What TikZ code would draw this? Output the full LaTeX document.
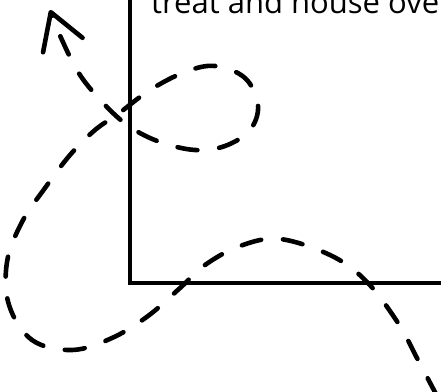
\documentclass[tikz,border=0pt]{standalone}
\usepackage{fontspec}
\setmainfont{Open Sans}
\usetikzlibrary{arrows.meta}
\usetikzlibrary{positioning}
\tikzstyle{axis}=[draw=black,line width=3.4pt,line join=miter]
\tikzstyle{curve}=[draw=black,line width=4.6pt,line cap=round,dash pattern=on 20pt off 22pt,-{Straight Barb[length=35pt,width=42pt,line cap=round,line join=round]}]
\tikzstyle{lbl}=[anchor=base west,inner sep=0pt,font=\fontsize{31}{37}\selectfont]

\begin{document}
\begin{tikzpicture}[x=1pt,y=-1pt]
  \useasboundingbox (0,0) rectangle (441,391);
  \coordinate (top) at (130,-5);
  \coordinate (origin) at (130,283);
  \coordinate (right) at (446,283);
  \draw[axis] (top) -- (origin) -- (right);
  \node[lbl] (title) at (151,13) {treat and house ove};
  \coordinate (tail) at (437,396);
  \coordinate (tip) at (50,10);
  \draw[curve] plot[smooth,tension=0.6] coordinates {(tail) (418,360) (398,323) (367,282)
    (332,256) (280,239) (240,246) (205,265) (180,288) (148,316) (112,338)
    (72,350) (32,340) (9,305) (7,262) (22,222) (45,188) (70,155) (95,130)
    (118,114) (150,90) (185,72) (215,66) (245,78) (258,105) (250,130)
    (225,146) (195,150) (160,142) (130,127) (105,105) (80,75) (62,40) (tip)};
\end{tikzpicture}
\end{document}
